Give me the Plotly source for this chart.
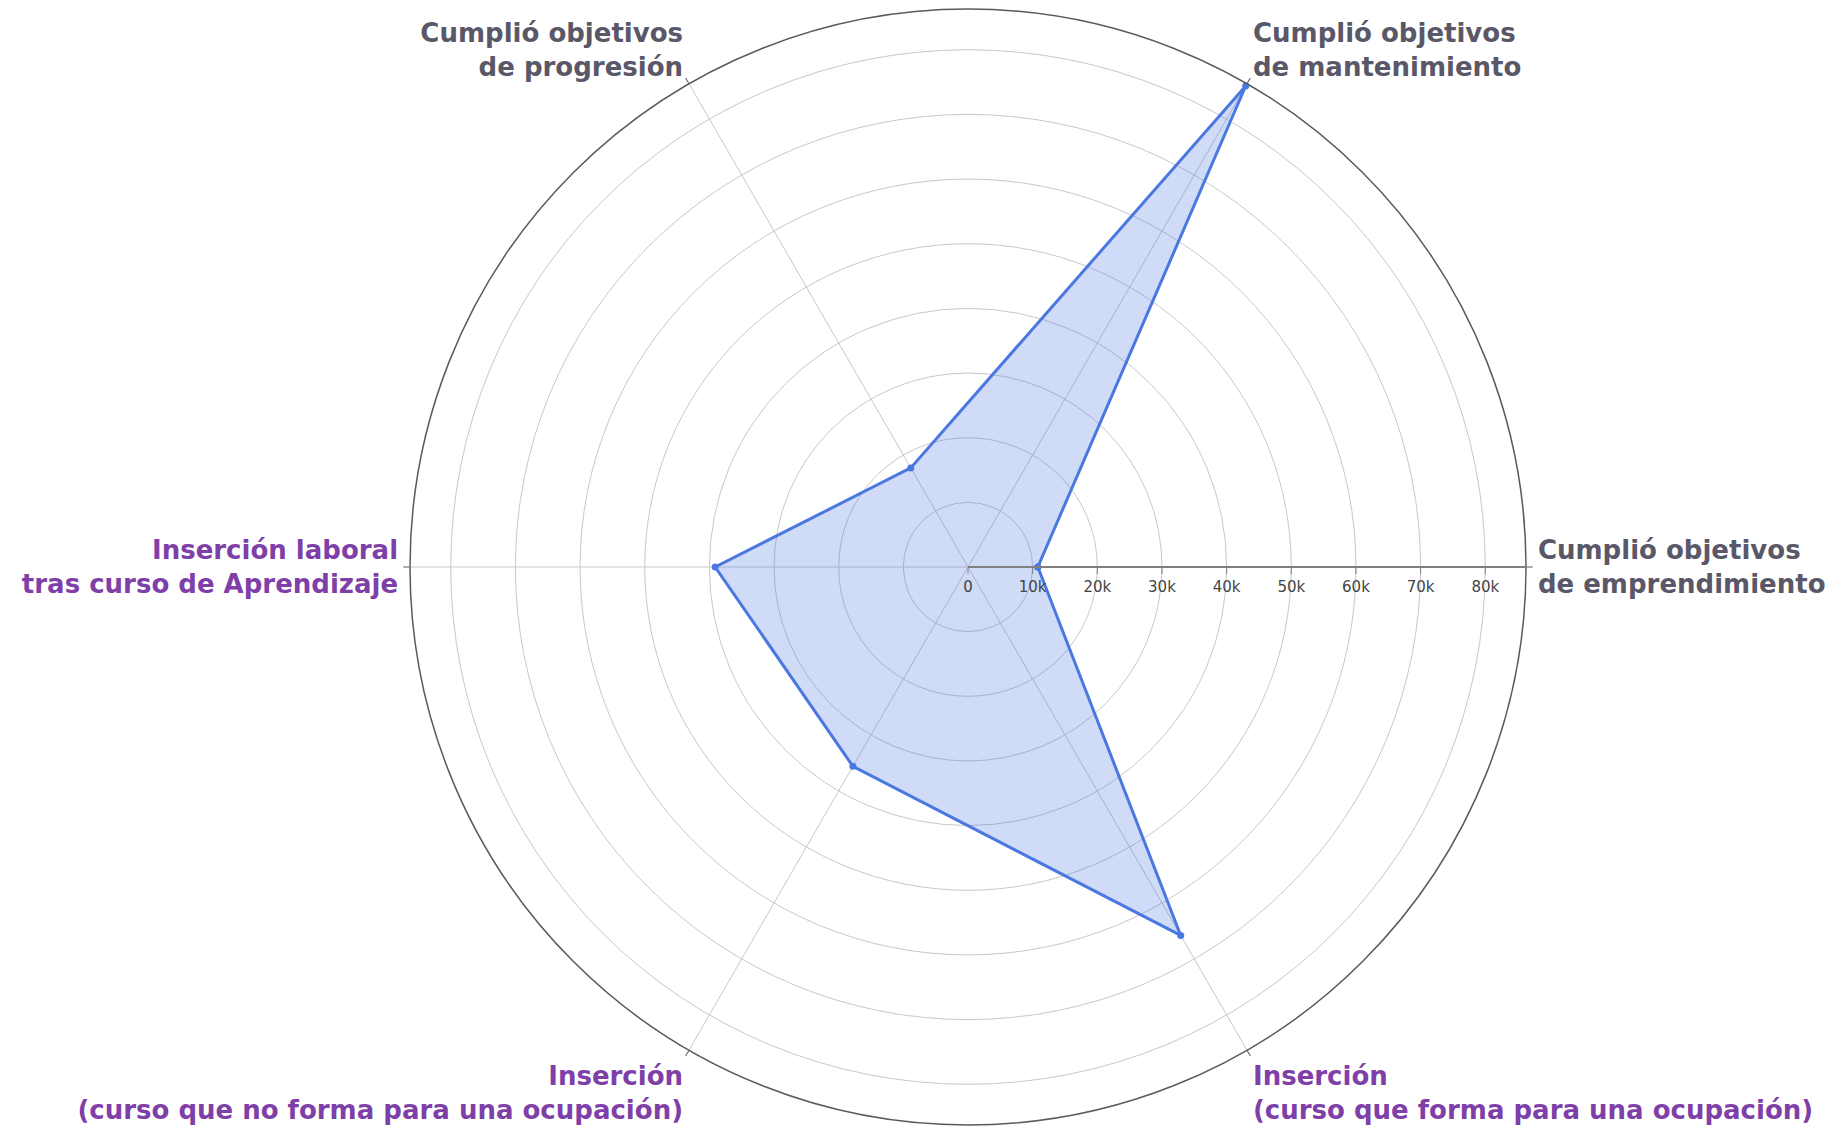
import plotly.graph_objects as go

categories = [
    "Cumplió objetivos<br>de emprendimiento",
    "Cumplió objetivos<br>de mantenimiento",
    "Cumplió objetivos<br>de progresión",
    "Inserción laboral<br>tras curso de Aprendizaje",
    "Inserción<br>(curso que no forma para una ocupación)",
    "Inserción<br>(curso que forma para una ocupación)",
]
values = [10800, 85900, 17700, 39100, 35600, 65800]
label_colors = ["#5a5868", "#5a5868", "#5a5868", "#7f3fa8", "#7f3fa8", "#7f3fa8"]
radial_ticks = [0, 10000, 20000, 30000, 40000, 50000, 60000, 70000, 80000]

ticktext = [f"<span style='color:{c}'><b>{t}</b></span>" for t, c in zip(categories, label_colors)]

fig = go.Figure()
fig.add_trace(go.Scatterpolar(
    r=values + values[:1],
    theta=categories + categories[:1],
    mode="lines+markers",
    fill="toself",
    fillcolor="rgba(74,120,224,0.26)",
    line=dict(color="#4a78e0", width=3),
    marker=dict(color="#4a78e0", size=7),
    showlegend=False,
))

W, H = 1833, 1133
cx, cy, R = 960, 559, 558
fig.update_layout(
    width=W, height=H,
    margin=dict(l=0, r=0, t=0, b=0),
    paper_bgcolor="white",
    plot_bgcolor="white",
    font=dict(family="Verdana, DejaVu Sans", color="#444"),
    polar=dict(
        domain=dict(x=[(cx - R) / W, (cx + R) / W], y=[1 - (cy + R) / H, 1 - (cy - R) / H]),
        bgcolor="white",
        angularaxis=dict(
            direction="counterclockwise",
            rotation=0,
            tickmode="array",
            tickvals=categories,
            ticktext=ticktext,
            tickfont=dict(family="Verdana, DejaVu Sans", size=26),
            showline=True,
            linecolor="#5a5a5a",
            linewidth=1.5,
            gridcolor="#c8c8c8",
            gridwidth=1.3,
            ticks="outside",
            ticklen=6,
            tickcolor="#5a5a5a",
        ),
        radialaxis=dict(
            range=[0, 86300],
            angle=0,
            tickangle=0,
            tickvals=radial_ticks,
            tickfont=dict(family="Verdana, DejaVu Sans", size=15, color="#444"),
            showline=True,
            linecolor="#808080",
            linewidth=2,
            ticks="outside",
            ticklen=6,
            tickcolor="#808080",
            gridcolor="#c8c8c8",
            gridwidth=1.3,
        ),
    ),
)

fig.write_html("out.html")
